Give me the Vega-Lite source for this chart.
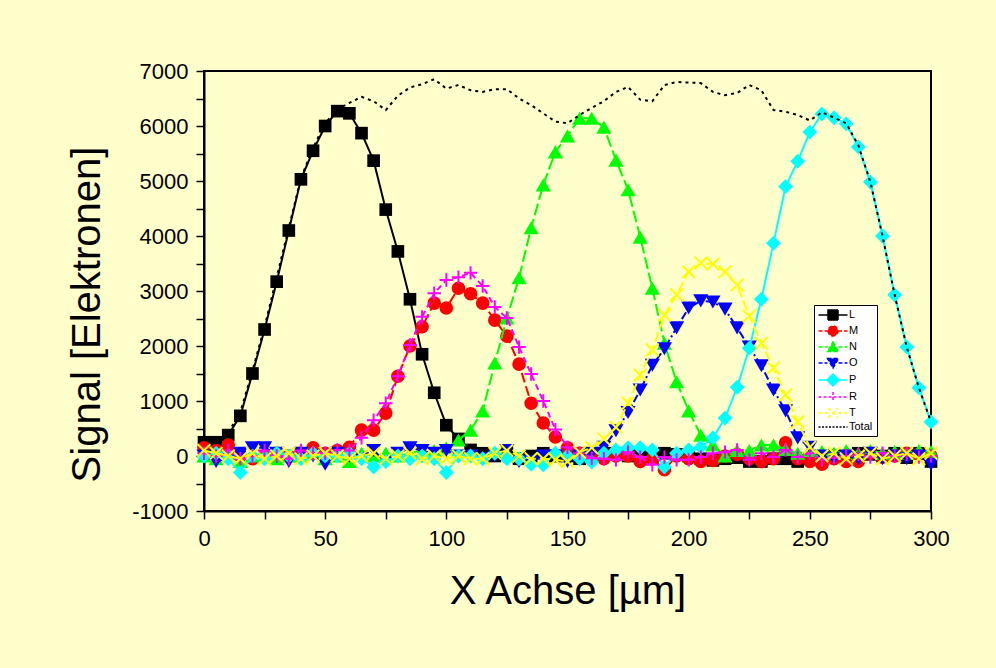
{
"$schema": "https://vega.github.io/schema/vega-lite/v6.json",
"width": 727, "height": 440,
"autosize": {"type": "none"},
"padding": {"left": 204, "top": 71, "right": 65, "bottom": 157},
"background": "#FFFFCC",
"config": {
 "view": {"stroke": "#000000", "strokeWidth": 2},
 "font": "Liberation Sans",
 "axis": {"domainColor": "#000000", "domainWidth": 2, "tickColor": "#000000", "tickWidth": 1.5, "tickSize": 8, "labelColor": "#000000", "labelFontSize": 22, "labelFont": "Liberation Sans", "titleFont": "Liberation Sans", "titleFontSize": 40, "titleFontWeight": "normal", "titleColor": "#000000", "grid": false, "labelOverlap": false, "labelFlush": false},
 "legend": {"labelFont": "Liberation Sans", "labelFontSize": 11, "labelColor": "#000000", "symbolStrokeWidth": 1.5, "padding": 4, "rowPadding": 0, "strokeColor": "#000000", "fillColor": "#FFFFFF", "symbolOffset": 9, "labelOffset": 10, "symbolSize": 100}
},
"datasets": {"d": [
{"x":0,"s":"L","v":250},{"x":5,"s":"L","v":250},{"x":10,"s":"L","v":380},{"x":15,"s":"L","v":730},{"x":20,"s":"L","v":1500},{"x":25,"s":"L","v":2300},{"x":30,"s":"L","v":3170},{"x":35,"s":"L","v":4100},{"x":40,"s":"L","v":5030},{"x":45,"s":"L","v":5550},{"x":50,"s":"L","v":6000},{"x":55,"s":"L","v":6270},{"x":60,"s":"L","v":6230},{"x":65,"s":"L","v":5870},{"x":70,"s":"L","v":5370},{"x":75,"s":"L","v":4480},{"x":80,"s":"L","v":3720},{"x":85,"s":"L","v":2850},{"x":90,"s":"L","v":1850},{"x":95,"s":"L","v":1150},{"x":100,"s":"L","v":560},{"x":105,"s":"L","v":310},{"x":110,"s":"L","v":110},{"x":115,"s":"L","v":50},{"x":120,"s":"L","v":0},{"x":125,"s":"L","v":50},{"x":130,"s":"L","v":-50},{"x":135,"s":"L","v":0},{"x":140,"s":"L","v":50},{"x":145,"s":"L","v":0},{"x":150,"s":"L","v":0},{"x":155,"s":"L","v":-50},{"x":160,"s":"L","v":30},{"x":165,"s":"L","v":50},{"x":170,"s":"L","v":50},{"x":175,"s":"L","v":0},{"x":180,"s":"L","v":50},{"x":185,"s":"L","v":-20},{"x":190,"s":"L","v":50},{"x":195,"s":"L","v":30},{"x":200,"s":"L","v":0},{"x":205,"s":"L","v":-50},{"x":210,"s":"L","v":-80},{"x":215,"s":"L","v":-50},{"x":220,"s":"L","v":-30},{"x":225,"s":"L","v":-100},{"x":230,"s":"L","v":-100},{"x":235,"s":"L","v":-50},{"x":240,"s":"L","v":-50},{"x":245,"s":"L","v":-100},{"x":250,"s":"L","v":-50},{"x":255,"s":"L","v":-80},{"x":260,"s":"L","v":0},{"x":265,"s":"L","v":-50},{"x":270,"s":"L","v":50},{"x":275,"s":"L","v":30},{"x":280,"s":"L","v":0},{"x":285,"s":"L","v":50},{"x":290,"s":"L","v":-30},{"x":295,"s":"L","v":50},{"x":300,"s":"L","v":-100},
{"x":0,"s":"M","v":150},{"x":5,"s":"M","v":100},{"x":10,"s":"M","v":200},{"x":15,"s":"M","v":0},{"x":20,"s":"M","v":-50},{"x":25,"s":"M","v":0},{"x":30,"s":"M","v":50},{"x":35,"s":"M","v":0},{"x":40,"s":"M","v":50},{"x":45,"s":"M","v":150},{"x":50,"s":"M","v":50},{"x":55,"s":"M","v":100},{"x":60,"s":"M","v":160},{"x":65,"s":"M","v":470},{"x":70,"s":"M","v":470},{"x":75,"s":"M","v":780},{"x":80,"s":"M","v":1450},{"x":85,"s":"M","v":2000},{"x":90,"s":"M","v":2350},{"x":95,"s":"M","v":2780},{"x":100,"s":"M","v":2690},{"x":105,"s":"M","v":3050},{"x":110,"s":"M","v":2950},{"x":115,"s":"M","v":2780},{"x":120,"s":"M","v":2470},{"x":125,"s":"M","v":2180},{"x":130,"s":"M","v":1670},{"x":135,"s":"M","v":960},{"x":140,"s":"M","v":600},{"x":145,"s":"M","v":345},{"x":150,"s":"M","v":150},{"x":155,"s":"M","v":50},{"x":160,"s":"M","v":0},{"x":165,"s":"M","v":-50},{"x":170,"s":"M","v":0},{"x":175,"s":"M","v":0},{"x":180,"s":"M","v":-100},{"x":185,"s":"M","v":-50},{"x":190,"s":"M","v":-250},{"x":195,"s":"M","v":0},{"x":200,"s":"M","v":-50},{"x":205,"s":"M","v":-100},{"x":210,"s":"M","v":-80},{"x":215,"s":"M","v":0},{"x":220,"s":"M","v":30},{"x":225,"s":"M","v":-50},{"x":230,"s":"M","v":-100},{"x":235,"s":"M","v":-50},{"x":240,"s":"M","v":240},{"x":245,"s":"M","v":-50},{"x":250,"s":"M","v":-100},{"x":255,"s":"M","v":-150},{"x":260,"s":"M","v":-50},{"x":265,"s":"M","v":-100},{"x":270,"s":"M","v":-100},{"x":275,"s":"M","v":50},{"x":280,"s":"M","v":-20},{"x":285,"s":"M","v":0},{"x":290,"s":"M","v":50},{"x":295,"s":"M","v":30},{"x":300,"s":"M","v":0},
{"x":0,"s":"N","v":0},{"x":5,"s":"N","v":-50},{"x":10,"s":"N","v":50},{"x":15,"s":"N","v":-100},{"x":20,"s":"N","v":0},{"x":25,"s":"N","v":50},{"x":30,"s":"N","v":-50},{"x":35,"s":"N","v":0},{"x":40,"s":"N","v":0},{"x":45,"s":"N","v":50},{"x":50,"s":"N","v":-50},{"x":55,"s":"N","v":0},{"x":60,"s":"N","v":-100},{"x":65,"s":"N","v":50},{"x":70,"s":"N","v":0},{"x":75,"s":"N","v":50},{"x":80,"s":"N","v":0},{"x":85,"s":"N","v":50},{"x":90,"s":"N","v":100},{"x":95,"s":"N","v":100},{"x":100,"s":"N","v":150},{"x":105,"s":"N","v":290},{"x":110,"s":"N","v":470},{"x":115,"s":"N","v":820},{"x":120,"s":"N","v":1690},{"x":125,"s":"N","v":2510},{"x":130,"s":"N","v":3240},{"x":135,"s":"N","v":4150},{"x":140,"s":"N","v":4930},{"x":145,"s":"N","v":5530},{"x":150,"s":"N","v":5820},{"x":155,"s":"N","v":6140},{"x":160,"s":"N","v":6140},{"x":165,"s":"N","v":5980},{"x":170,"s":"N","v":5380},{"x":175,"s":"N","v":4840},{"x":180,"s":"N","v":3980},{"x":185,"s":"N","v":3050},{"x":190,"s":"N","v":2050},{"x":195,"s":"N","v":1350},{"x":200,"s":"N","v":820},{"x":205,"s":"N","v":380},{"x":210,"s":"N","v":200},{"x":215,"s":"N","v":0},{"x":220,"s":"N","v":100},{"x":225,"s":"N","v":100},{"x":230,"s":"N","v":200},{"x":235,"s":"N","v":200},{"x":240,"s":"N","v":120},{"x":245,"s":"N","v":50},{"x":250,"s":"N","v":100},{"x":255,"s":"N","v":80},{"x":260,"s":"N","v":50},{"x":265,"s":"N","v":100},{"x":270,"s":"N","v":50},{"x":275,"s":"N","v":100},{"x":280,"s":"N","v":50},{"x":285,"s":"N","v":80},{"x":290,"s":"N","v":50},{"x":295,"s":"N","v":100},{"x":300,"s":"N","v":80},
{"x":0,"s":"O","v":0},{"x":5,"s":"O","v":-100},{"x":10,"s":"O","v":-50},{"x":15,"s":"O","v":50},{"x":20,"s":"O","v":150},{"x":25,"s":"O","v":150},{"x":30,"s":"O","v":50},{"x":35,"s":"O","v":-100},{"x":40,"s":"O","v":50},{"x":45,"s":"O","v":0},{"x":50,"s":"O","v":-150},{"x":55,"s":"O","v":50},{"x":60,"s":"O","v":0},{"x":65,"s":"O","v":-50},{"x":70,"s":"O","v":100},{"x":75,"s":"O","v":-100},{"x":80,"s":"O","v":50},{"x":85,"s":"O","v":150},{"x":90,"s":"O","v":100},{"x":95,"s":"O","v":50},{"x":100,"s":"O","v":100},{"x":105,"s":"O","v":0},{"x":110,"s":"O","v":0},{"x":115,"s":"O","v":-50},{"x":120,"s":"O","v":0},{"x":125,"s":"O","v":100},{"x":130,"s":"O","v":-100},{"x":135,"s":"O","v":-100},{"x":140,"s":"O","v":0},{"x":145,"s":"O","v":0},{"x":150,"s":"O","v":-100},{"x":155,"s":"O","v":0},{"x":160,"s":"O","v":50},{"x":165,"s":"O","v":160},{"x":170,"s":"O","v":460},{"x":175,"s":"O","v":790},{"x":180,"s":"O","v":1200},{"x":185,"s":"O","v":1650},{"x":190,"s":"O","v":1950},{"x":195,"s":"O","v":2330},{"x":200,"s":"O","v":2690},{"x":205,"s":"O","v":2820},{"x":210,"s":"O","v":2800},{"x":215,"s":"O","v":2670},{"x":220,"s":"O","v":2330},{"x":225,"s":"O","v":1980},{"x":230,"s":"O","v":1640},{"x":235,"s":"O","v":1200},{"x":240,"s":"O","v":820},{"x":245,"s":"O","v":330},{"x":250,"s":"O","v":160},{"x":255,"s":"O","v":0},{"x":260,"s":"O","v":-50},{"x":265,"s":"O","v":0},{"x":270,"s":"O","v":-50},{"x":275,"s":"O","v":50},{"x":280,"s":"O","v":-50},{"x":285,"s":"O","v":0},{"x":290,"s":"O","v":-50},{"x":295,"s":"O","v":0},{"x":300,"s":"O","v":-150},
{"x":0,"s":"P","v":0},{"x":5,"s":"P","v":50},{"x":10,"s":"P","v":-50},{"x":15,"s":"P","v":-300},{"x":20,"s":"P","v":0},{"x":25,"s":"P","v":-50},{"x":30,"s":"P","v":50},{"x":35,"s":"P","v":0},{"x":40,"s":"P","v":-50},{"x":45,"s":"P","v":50},{"x":50,"s":"P","v":0},{"x":55,"s":"P","v":0},{"x":60,"s":"P","v":50},{"x":65,"s":"P","v":-50},{"x":70,"s":"P","v":-200},{"x":75,"s":"P","v":-100},{"x":80,"s":"P","v":0},{"x":85,"s":"P","v":-50},{"x":90,"s":"P","v":0},{"x":95,"s":"P","v":-50},{"x":100,"s":"P","v":-300},{"x":105,"s":"P","v":0},{"x":110,"s":"P","v":0},{"x":115,"s":"P","v":-50},{"x":120,"s":"P","v":50},{"x":125,"s":"P","v":-50},{"x":130,"s":"P","v":-50},{"x":135,"s":"P","v":-150},{"x":140,"s":"P","v":-160},{"x":145,"s":"P","v":50},{"x":150,"s":"P","v":0},{"x":155,"s":"P","v":-50},{"x":160,"s":"P","v":-110},{"x":165,"s":"P","v":50},{"x":170,"s":"P","v":110},{"x":175,"s":"P","v":150},{"x":180,"s":"P","v":150},{"x":185,"s":"P","v":110},{"x":190,"s":"P","v":-200},{"x":195,"s":"P","v":50},{"x":200,"s":"P","v":110},{"x":205,"s":"P","v":160},{"x":210,"s":"P","v":330},{"x":215,"s":"P","v":690},{"x":220,"s":"P","v":1250},{"x":225,"s":"P","v":1960},{"x":230,"s":"P","v":2850},{"x":235,"s":"P","v":3870},{"x":240,"s":"P","v":4900},{"x":245,"s":"P","v":5360},{"x":250,"s":"P","v":5890},{"x":255,"s":"P","v":6220},{"x":260,"s":"P","v":6150},{"x":265,"s":"P","v":6040},{"x":270,"s":"P","v":5620},{"x":275,"s":"P","v":4980},{"x":280,"s":"P","v":4000},{"x":285,"s":"P","v":2930},{"x":290,"s":"P","v":1980},{"x":295,"s":"P","v":1240},{"x":300,"s":"P","v":620},
{"x":0,"s":"R","v":50},{"x":5,"s":"R","v":0},{"x":10,"s":"R","v":100},{"x":15,"s":"R","v":-50},{"x":20,"s":"R","v":0},{"x":25,"s":"R","v":100},{"x":30,"s":"R","v":0},{"x":35,"s":"R","v":-50},{"x":40,"s":"R","v":100},{"x":45,"s":"R","v":50},{"x":50,"s":"R","v":50},{"x":55,"s":"R","v":110},{"x":60,"s":"R","v":100},{"x":65,"s":"R","v":330},{"x":70,"s":"R","v":650},{"x":75,"s":"R","v":960},{"x":80,"s":"R","v":1450},{"x":85,"s":"R","v":2020},{"x":90,"s":"R","v":2530},{"x":95,"s":"R","v":2960},{"x":100,"s":"R","v":3200},{"x":105,"s":"R","v":3250},{"x":110,"s":"R","v":3330},{"x":115,"s":"R","v":3090},{"x":120,"s":"R","v":2710},{"x":125,"s":"R","v":2510},{"x":130,"s":"R","v":1980},{"x":135,"s":"R","v":1490},{"x":140,"s":"R","v":1000},{"x":145,"s":"R","v":480},{"x":150,"s":"R","v":160},{"x":155,"s":"R","v":50},{"x":160,"s":"R","v":-40},{"x":165,"s":"R","v":-50},{"x":170,"s":"R","v":-70},{"x":175,"s":"R","v":70},{"x":180,"s":"R","v":-20},{"x":185,"s":"R","v":-160},{"x":190,"s":"R","v":-20},{"x":195,"s":"R","v":-70},{"x":200,"s":"R","v":-70},{"x":205,"s":"R","v":-20},{"x":210,"s":"R","v":50},{"x":215,"s":"R","v":70},{"x":220,"s":"R","v":110},{"x":225,"s":"R","v":-70},{"x":230,"s":"R","v":50},{"x":235,"s":"R","v":-20},{"x":240,"s":"R","v":110},{"x":245,"s":"R","v":-20},{"x":250,"s":"R","v":50},{"x":255,"s":"R","v":-70},{"x":260,"s":"R","v":-30},{"x":265,"s":"R","v":0},{"x":270,"s":"R","v":30},{"x":275,"s":"R","v":-20},{"x":280,"s":"R","v":50},{"x":285,"s":"R","v":0},{"x":290,"s":"R","v":30},{"x":295,"s":"R","v":-20},{"x":300,"s":"R","v":0},
{"x":0,"s":"T","v":100},{"x":5,"s":"T","v":50},{"x":10,"s":"T","v":0},{"x":15,"s":"T","v":-50},{"x":20,"s":"T","v":50},{"x":25,"s":"T","v":-50},{"x":30,"s":"T","v":0},{"x":35,"s":"T","v":50},{"x":40,"s":"T","v":-50},{"x":45,"s":"T","v":0},{"x":50,"s":"T","v":50},{"x":55,"s":"T","v":0},{"x":60,"s":"T","v":-50},{"x":65,"s":"T","v":0},{"x":70,"s":"T","v":50},{"x":75,"s":"T","v":-50},{"x":80,"s":"T","v":0},{"x":85,"s":"T","v":50},{"x":90,"s":"T","v":-50},{"x":95,"s":"T","v":0},{"x":100,"s":"T","v":-50},{"x":105,"s":"T","v":0},{"x":110,"s":"T","v":-50},{"x":115,"s":"T","v":-50},{"x":120,"s":"T","v":50},{"x":125,"s":"T","v":100},{"x":130,"s":"T","v":0},{"x":135,"s":"T","v":-50},{"x":140,"s":"T","v":-50},{"x":145,"s":"T","v":-70},{"x":150,"s":"T","v":-100},{"x":155,"s":"T","v":70},{"x":160,"s":"T","v":150},{"x":165,"s":"T","v":310},{"x":170,"s":"T","v":520},{"x":175,"s":"T","v":960},{"x":180,"s":"T","v":1470},{"x":185,"s":"T","v":1930},{"x":190,"s":"T","v":2560},{"x":195,"s":"T","v":2930},{"x":200,"s":"T","v":3350},{"x":205,"s":"T","v":3510},{"x":210,"s":"T","v":3490},{"x":215,"s":"T","v":3350},{"x":220,"s":"T","v":3110},{"x":225,"s":"T","v":2545},{"x":230,"s":"T","v":2050},{"x":235,"s":"T","v":1600},{"x":240,"s":"T","v":1110},{"x":245,"s":"T","v":620},{"x":250,"s":"T","v":160},{"x":255,"s":"T","v":0},{"x":260,"s":"T","v":50},{"x":265,"s":"T","v":-50},{"x":270,"s":"T","v":0},{"x":275,"s":"T","v":50},{"x":280,"s":"T","v":-50},{"x":285,"s":"T","v":0},{"x":290,"s":"T","v":50},{"x":295,"s":"T","v":-50},{"x":300,"s":"T","v":50},
{"x":0,"s":"Total","v":300},{"x":5,"s":"Total","v":250},{"x":10,"s":"Total","v":420},{"x":15,"s":"Total","v":800},{"x":20,"s":"Total","v":1550},{"x":25,"s":"Total","v":2350},{"x":30,"s":"Total","v":3250},{"x":35,"s":"Total","v":4150},{"x":40,"s":"Total","v":5050},{"x":45,"s":"Total","v":5600},{"x":50,"s":"Total","v":6050},{"x":55,"s":"Total","v":6300},{"x":60,"s":"Total","v":6420},{"x":65,"s":"Total","v":6530},{"x":70,"s":"Total","v":6450},{"x":75,"s":"Total","v":6290},{"x":80,"s":"Total","v":6550},{"x":85,"s":"Total","v":6700},{"x":90,"s":"Total","v":6760},{"x":95,"s":"Total","v":6850},{"x":100,"s":"Total","v":6680},{"x":105,"s":"Total","v":6745},{"x":110,"s":"Total","v":6650},{"x":115,"s":"Total","v":6620},{"x":120,"s":"Total","v":6670},{"x":125,"s":"Total","v":6670},{"x":130,"s":"Total","v":6500},{"x":135,"s":"Total","v":6380},{"x":140,"s":"Total","v":6230},{"x":145,"s":"Total","v":6080},{"x":150,"s":"Total","v":6050},{"x":155,"s":"Total","v":6200},{"x":160,"s":"Total","v":6330},{"x":165,"s":"Total","v":6450},{"x":170,"s":"Total","v":6620},{"x":175,"s":"Total","v":6710},{"x":180,"s":"Total","v":6480},{"x":185,"s":"Total","v":6450},{"x":190,"s":"Total","v":6745},{"x":195,"s":"Total","v":6800},{"x":200,"s":"Total","v":6790},{"x":205,"s":"Total","v":6780},{"x":210,"s":"Total","v":6620},{"x":215,"s":"Total","v":6560},{"x":220,"s":"Total","v":6600},{"x":225,"s":"Total","v":6745},{"x":230,"s":"Total","v":6650},{"x":235,"s":"Total","v":6290},{"x":240,"s":"Total","v":6260},{"x":245,"s":"Total","v":6200},{"x":250,"s":"Total","v":6100},{"x":255,"s":"Total","v":6250},{"x":260,"s":"Total","v":6150},{"x":265,"s":"Total","v":6050},{"x":270,"s":"Total","v":5650},{"x":275,"s":"Total","v":4980},{"x":280,"s":"Total","v":4000},{"x":285,"s":"Total","v":2930},{"x":290,"s":"Total","v":1980},{"x":295,"s":"Total","v":1240},{"x":300,"s":"Total","v":620}
]},
"data": {"name": "d"},
"encoding": {
 "x": {"field": "x", "type": "quantitative", "scale": {"domain": [0, 300], "nice": false, "zero": false},
  "axis": {"title": "X Achse [µm]", "values": [0,25,50,75,100,125,150,175,200,225,250,275,300], "labelExpr": "datum.value % 50 === 0 ? '' + datum.value : ''", "labelPadding": 9, "titlePadding": 22}},
 "y": {"field": "v", "type": "quantitative", "scale": {"domain": [-1000, 7000], "nice": false, "zero": false},
  "axis": {"title": "Signal [Elektronen]", "values": [-1000,-500,0,500,1000,1500,2000,2500,3000,3500,4000,4500,5000,5500,6000,6500,7000], "labelExpr": "datum.value % 1000 === 0 ? '' + datum.value : ''", "labelPadding": 8, "titlePadding": 24, "titleY": 243}}
},
"layer": [
 {"transform": [{"filter": "datum.s === 'L'"}], "layer": [
  {"mark": {"type": "line", "color": "#000000", "strokeWidth": 2}, "encoding": {}},
  {"mark": {"type": "point", "shape": "square", "filled": true, "color": "#000000", "size": 160, "opacity": 1}, "encoding": {}}]},
 {"transform": [{"filter": "datum.s === 'M'"}], "layer": [
  {"mark": {"type": "line", "color": "#FF0000", "strokeWidth": 2, "strokeDash": [10, 4]}, "encoding": {}},
  {"mark": {"type": "point", "shape": "circle", "filled": true, "color": "#FF0000", "size": 185, "opacity": 1}, "encoding": {}}]},
 {"transform": [{"filter": "datum.s === 'N'"}], "layer": [
  {"mark": {"type": "line", "color": "#00FF00", "strokeWidth": 2, "strokeDash": [12, 4]}, "encoding": {}},
  {"mark": {"type": "point", "shape": "triangle-up", "filled": true, "color": "#00FF00", "size": 230, "opacity": 1}, "encoding": {}}]},
 {"transform": [{"filter": "datum.s === 'O'"}], "layer": [
  {"mark": {"type": "line", "color": "#0000FF", "strokeWidth": 2, "strokeDash": [8, 3, 2, 3]}, "encoding": {}},
  {"mark": {"type": "point", "shape": "triangle-down", "filled": true, "color": "#0000FF", "size": 230, "opacity": 1}, "encoding": {}}]},
 {"transform": [{"filter": "datum.s === 'P'"}], "layer": [
  {"mark": {"type": "line", "color": "#00FFFF", "strokeWidth": 2}, "encoding": {}},
  {"mark": {"type": "point", "shape": "diamond", "filled": true, "color": "#00FFFF", "size": 220, "opacity": 1}, "encoding": {}}]},
 {"transform": [{"filter": "datum.s === 'R'"}], "layer": [
  {"mark": {"type": "line", "color": "#FF00FF", "strokeWidth": 2, "strokeDash": [6, 4]}, "encoding": {}},
  {"mark": {"type": "point", "shape": "M-1,0H1M0,-1V1", "filled": false, "color": "#FF00FF", "strokeWidth": 2, "size": 180, "opacity": 1}, "encoding": {}}]},
 {"transform": [{"filter": "datum.s === 'T'"}], "layer": [
  {"mark": {"type": "line", "color": "#FFFF00", "strokeWidth": 2, "strokeDash": [10, 4]}, "encoding": {}},
  {"mark": {"type": "point", "shape": "M-1,-1L1,1M-1,1L1,-1", "filled": false, "color": "#FFFF00", "strokeWidth": 2, "size": 160, "opacity": 1}, "encoding": {}}]},
 {"transform": [{"filter": "datum.s === 'Total'"}],
  "mark": {"type": "line", "color": "#000000", "strokeWidth": 2, "strokeDash": [3, 4]}, "encoding": {}},
 {"transform": [{"filter": "false"}],
  "mark": {"type": "point", "filled": true, "opacity": 1, "size": 100},
  "encoding": {
   "shape": {"field": "s", "type": "nominal", "scale": {"domain": ["L","M","N","O","P","R","T","Total"], "range": ["M-2.9,0H-1M1,0H2.9M-1,-1H1V1H-1Z", "M-2.9,0H-1M1,0H2.9M-1,0A1,1,0,1,0,1,0A1,1,0,1,0,-1,0Z", "M-2.9,0H-1.1M1.1,0H2.9M0,-1L1.1,0.9H-1.1Z", "M-2.9,0H-1.1M1.1,0H2.9M-1.1,-0.9H1.1L0,1Z", "M-2.9,0H-1.2M1.2,0H2.9M0,-1.2L1.2,0L0,1.2L-1.2,0Z", "M-2.9,0H2.9M0,-1V1", "M-2.9,0H-1M1,0H2.9M-1,-1L1,1M-1,1L1,-1", "M-2.9,0H2.9"]},
    "legend": {"orient": "none", "legendX": 610, "legendY": 234, "title": null, "direction": "vertical"}},
   "fill": {"field": "s", "type": "nominal", "scale": {"domain": ["L","M","N","O","P","R","T","Total"], "range": ["#000000","#FF0000","#00FF00","#0000FF","#00FFFF","#FF00FF","#FFFF00","#000000"]},
    "legend": {"orient": "none", "legendX": 610, "legendY": 234, "title": null, "direction": "vertical"}},
   "stroke": {"field": "s", "type": "nominal", "scale": {"domain": ["L","M","N","O","P","R","T","Total"], "range": ["#000000","#FF0000","#00FF00","#0000FF","#00FFFF","#FF00FF","#FFFF00","#000000"]},
    "legend": {"orient": "none", "legendX": 610, "legendY": 234, "title": null, "direction": "vertical"}},
   "strokeDash": {"field": "s", "type": "nominal", "scale": {"domain": ["L","M","N","O","P","R","T","Total"], "range": [[1,0],[4,2],[4,2],[4,2],[1,0],[3,2],[4,2],[2,1.5]]},
    "legend": {"orient": "none", "legendX": 610, "legendY": 234, "title": null, "direction": "vertical"}}
  }}
]
}
